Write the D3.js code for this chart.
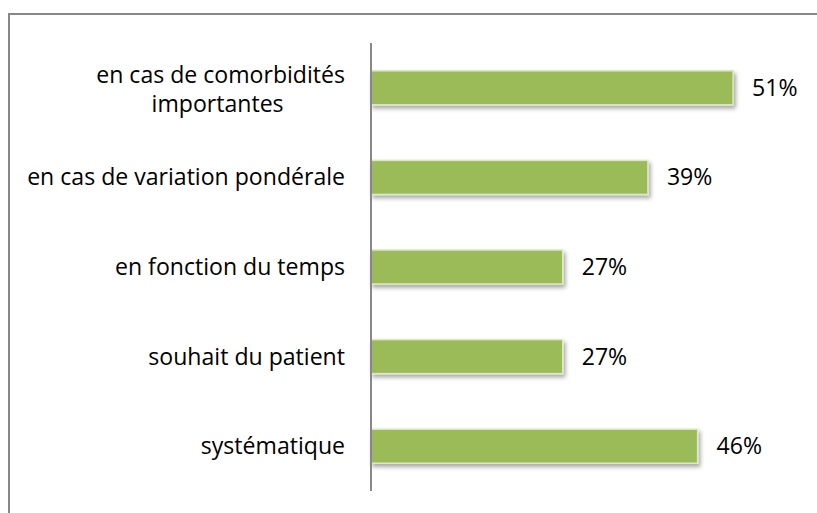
<!DOCTYPE html>
<html><head><meta charset="utf-8">
<script src="https://cdn.jsdelivr.net/npm/d3@7"></script>
<style>body{margin:0;background:#fff}svg{display:block}</style>
</head><body>
<script>
const categories = [
  ["en cas de comorbidités", "importantes"],
  ["en cas de variation pondérale"],
  ["en fonction du temps"],
  ["souhait du patient"],
  ["systématique"]
];
const values = [0.51, 0.39, 0.27, 0.27, 0.46];
const valueLabels = ["51%", "39%", "27%", "27%", "46%"];

const W = 817, H = 513;
const svg = d3.select("body").append("svg").attr("width", W).attr("height", H);
const defs = svg.append("defs");
const f = defs.append("filter").attr("id","sh").attr("x","-5%").attr("y","-30%").attr("width","115%").attr("height","180%");
f.append("feDropShadow").attr("dx",2).attr("dy",3).attr("stdDeviation",2).attr("flood-color","#000").attr("flood-opacity",0.35);

// outer border
svg.append("rect").attr("x",9).attr("y",14).attr("width",W+20).attr("height",H+20)
  .attr("fill","none").attr("stroke","#888").attr("stroke-width",2);

const x0 = 371;
const x = d3.scaleLinear().domain([0, 0.6]).range([x0, x0 + 0.6 * 710]);
const idx = d3.range(values.length);
const y = d3.scaleBand().domain(idx).range([43, 491]).paddingInner(0.62).paddingOuter(0.31);

const font = "'Open Sans', sans-serif";
// fit font size so the longest label spans like the reference
const probe = svg.append("text").attr("font-family", font).attr("font-size", 20).text(categories[1][0]);
const fs = 20 * 318 / probe.node().getComputedTextLength();
probe.remove();

svg.append("g").selectAll("rect").data(idx).join("rect")
  .attr("x", x(0)).attr("y", i => y(i))
  .attr("width", i => x(values[i]) - x(0)).attr("height", y.bandwidth())
  .attr("fill", "#9BBB59").attr("stroke", "#dde8c6").attr("stroke-width", 1.5)
  .attr("filter", "url(#sh)");

// axis
svg.append("line").attr("x1", x0).attr("x2", x0).attr("y1", 43).attr("y2", 491)
  .attr("stroke", "#888").attr("stroke-width", 2);

// value labels
svg.append("g").selectAll("text").data(idx).join("text")
  .attr("x", i => x(values[i]) + 19).attr("y", i => y(i) + y.bandwidth()/2)
  .attr("dy", "0.35em").attr("font-family", font).attr("font-size", fs).attr("fill", "#000")
  .text(i => valueLabels[i]);

// category labels
const labelRight = 345;
idx.forEach(i => {
  const lines = categories[i];
  const cy = y(i) + y.bandwidth()/2;
  const lh = 29;
  if (lines.length === 1) {
    svg.append("text").attr("x", labelRight).attr("y", cy).attr("dy","0.35em")
      .attr("text-anchor","end").attr("font-family",font).attr("font-size",fs).text(lines[0]);
  } else {
    const t1 = svg.append("text").attr("x", labelRight).attr("y", cy - lh/2 + 2).attr("dy","0.35em")
      .attr("text-anchor","end").attr("font-family",font).attr("font-size",fs).text(lines[0]);
    const w1 = t1.node().getComputedTextLength();
    svg.append("text").attr("x", labelRight - w1/2 - 3).attr("y", cy + lh/2 + 2).attr("dy","0.35em")
      .attr("text-anchor","middle").attr("font-family",font).attr("font-size",fs).text(lines[1]);
  }
});
</script>
</body></html>
